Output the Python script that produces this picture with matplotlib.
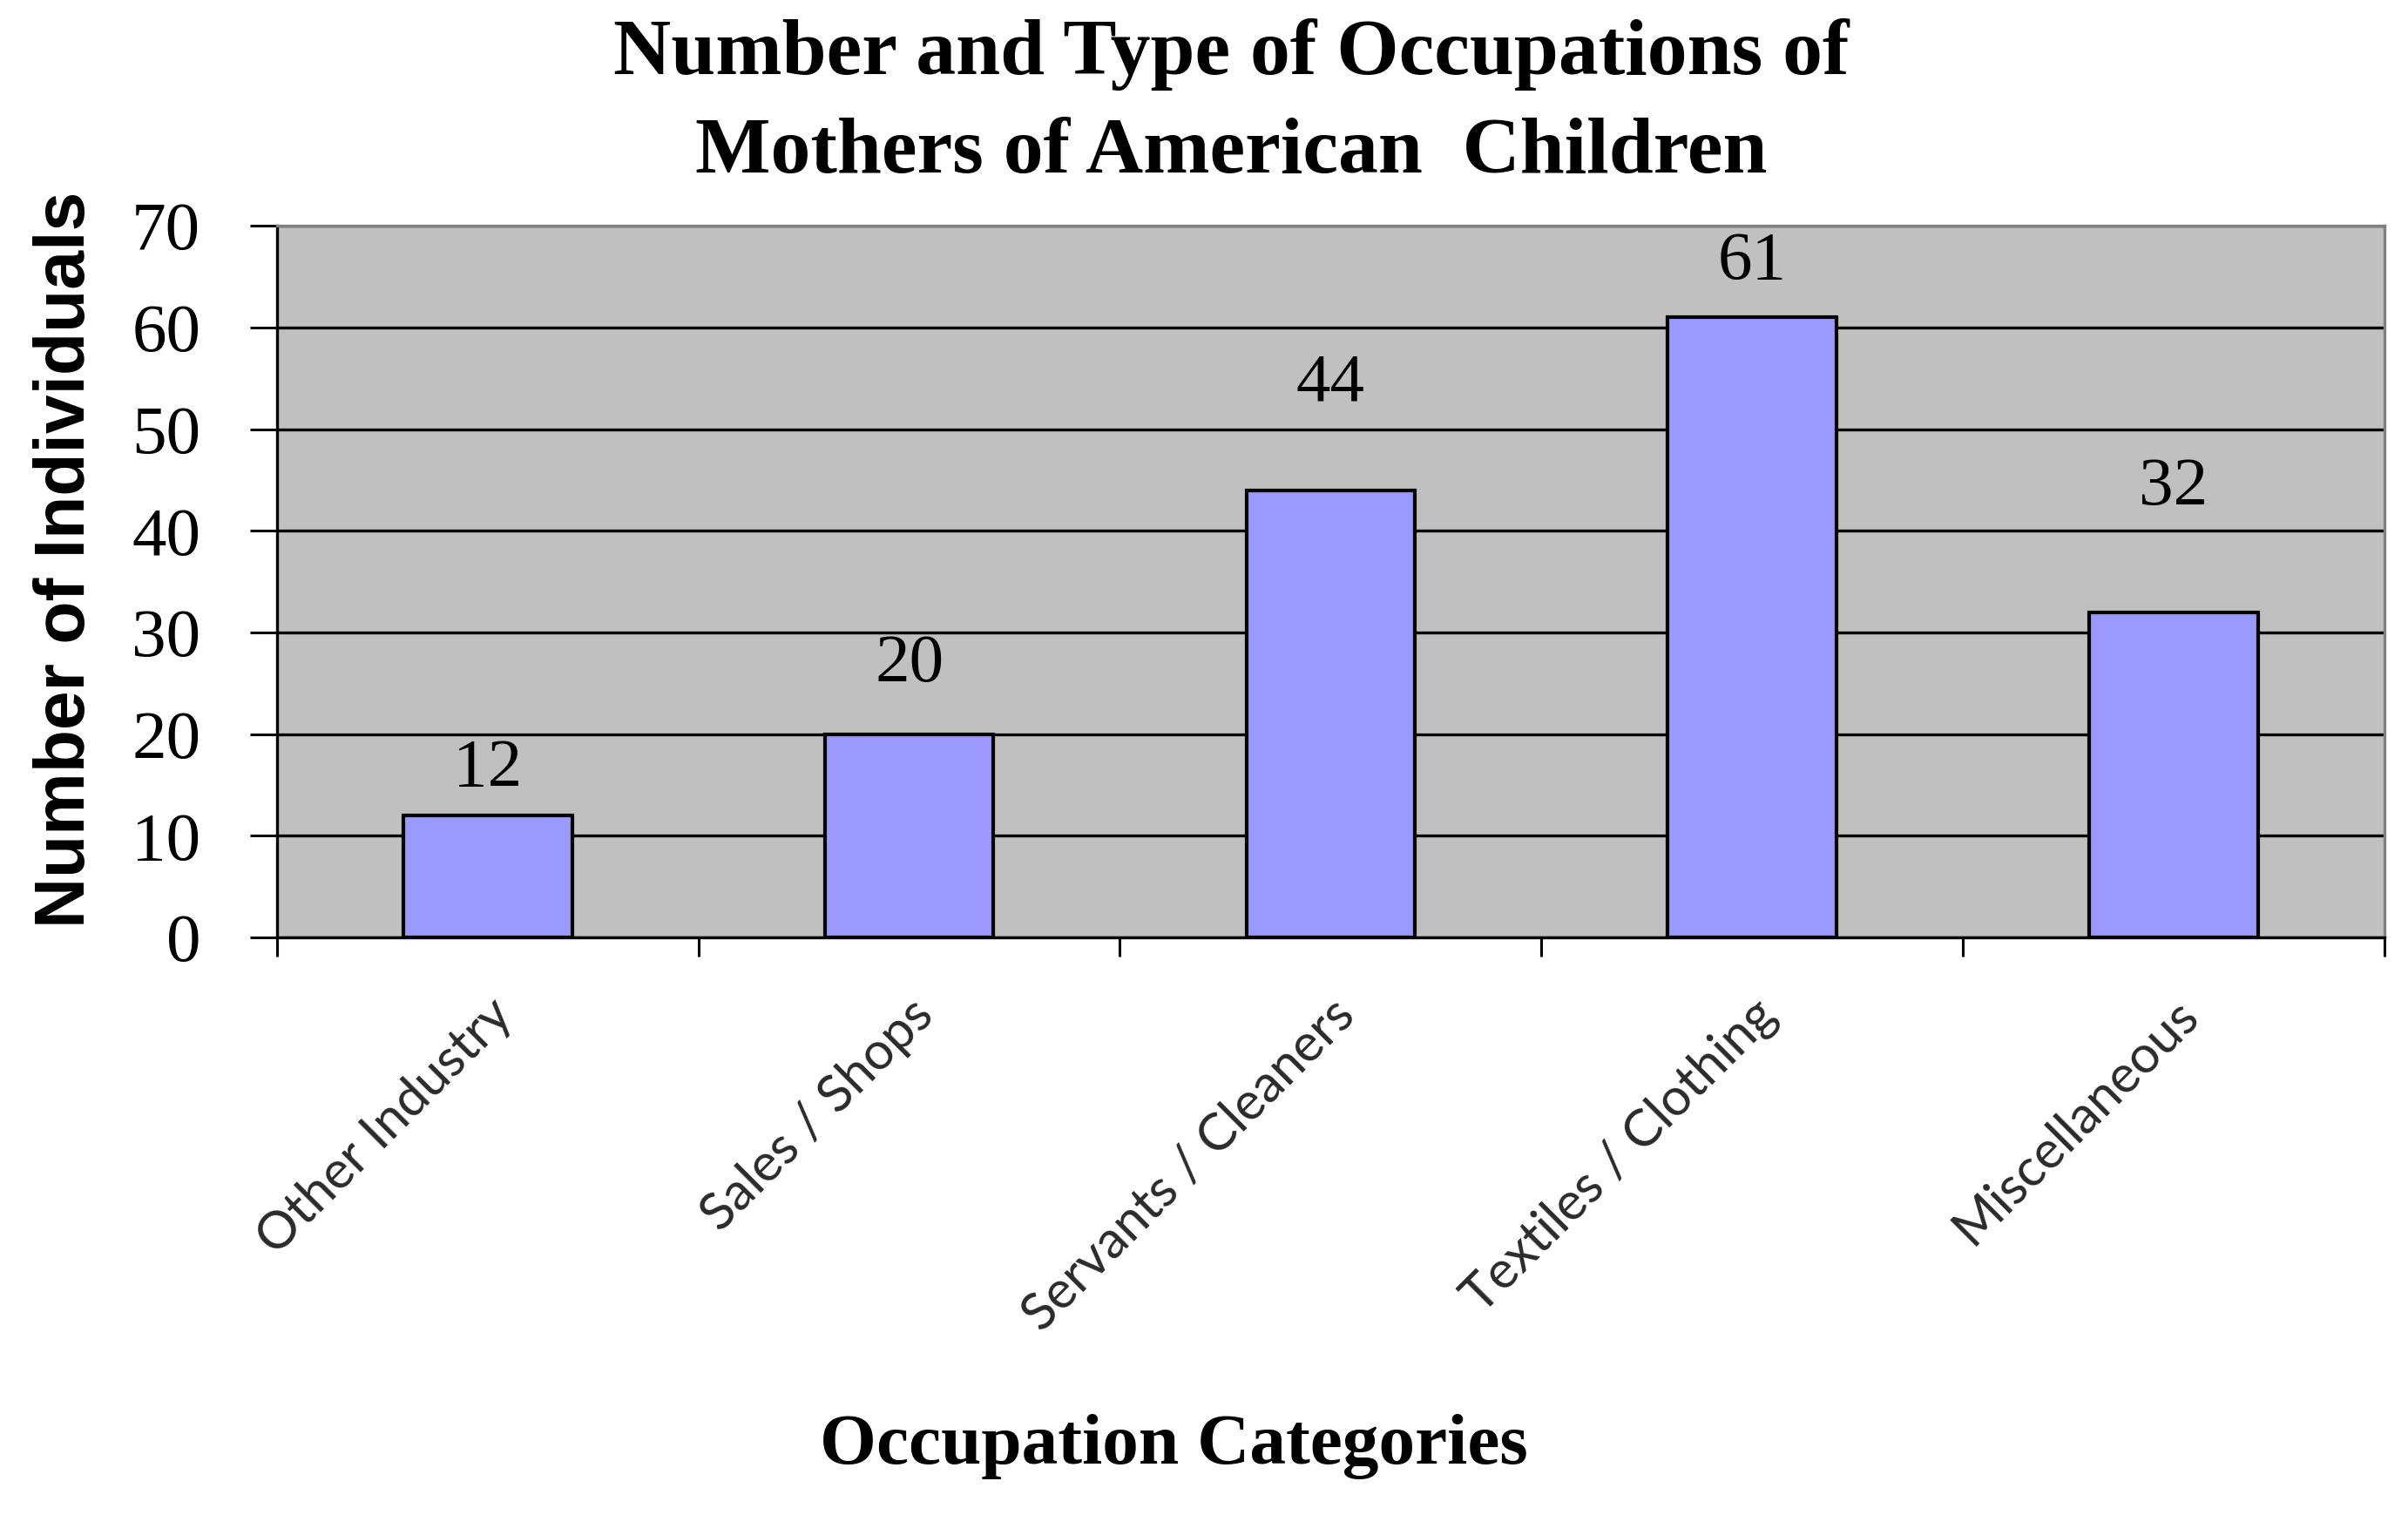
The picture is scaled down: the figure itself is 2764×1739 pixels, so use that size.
import matplotlib
matplotlib.use("Agg")
import matplotlib.pyplot as plt
import numpy as np

# Chart data
categories = ["Other Industry", "Sales / Shops", "Servants / Cleaners",
              "Textiles / Clothing", "Miscellaneous"]
counts = [12, 20, 44, 61, 32]
y_ticks = [0, 10, 20, 30, 40, 50, 60, 70]

title = "Number and Type of Occupations of\nMothers of American  Children"
x_title = "Occupation Categories"
y_title = "Number of Individuals"

# label baselines sit a bit above each bar (in data units), as in the original
label_lift = [2.9, 5.2, 8.8, 3.8, 10.6]

SERIF = "Liberation Serif"
BAR_COLOR = "#9999FF"
BG_COLOR = "#C0C0C0"

fig = plt.figure(figsize=(27.64, 17.39), dpi=100)
ax = fig.add_axes([0.1150, 0.3812, 0.8752, 0.4698])
ax.set_facecolor(BG_COLOR)

x = np.arange(len(categories))
ax.bar(x, counts, width=0.40, color=BAR_COLOR, edgecolor="black",
       linewidth=3.0, zorder=3)

for xi, v, lift in zip(x, counts, label_lift):
    ax.text(xi, v + lift, str(v), ha="center", va="baseline",
            fontsize=57, family=SERIF, color="black", zorder=4)

ax.set_xlim(-0.5, len(categories) - 0.5)
ax.set_ylim(0, 70)
ax.set_yticks(y_ticks)
ax.set_yticklabels([str(t) for t in y_ticks], family=SERIF, fontsize=57)

ax.set_axisbelow(True)
ax.yaxis.grid(True, color="black", linewidth=2.4)
ax.xaxis.grid(False)

# category labels at the bar centres, tick marks at the boundaries
ax.set_xticks(x)
ax.set_xticklabels(categories, rotation=45, ha="right",
                   rotation_mode="anchor", family="Lato", fontsize=43,
                   color="#2a2a2a")
ax.set_xticks(np.arange(len(categories) + 1) - 0.5, minor=True)
ax.tick_params(axis="x", which="major", length=0, pad=44)
ax.tick_params(axis="x", which="minor", length=16, width=2.2,
               direction="out", color="black")
ax.tick_params(axis="y", which="major", length=22, width=2.2,
               direction="out", color="black", pad=41)

for side in ["left", "bottom"]:
    ax.spines[side].set_color("black")
    ax.spines[side].set_linewidth(2.4)
for side in ["top", "right"]:
    ax.spines[side].set_color("#808080")
    ax.spines[side].set_linewidth(2.4)

fig.text(0.5112, 0.988, title, ha="center", va="top", fontsize=66,
         fontweight="bold", family=SERIF, linespacing=1.5)
fig.text(0.4873, 0.0339, x_title, ha="center", va="baseline", fontsize=60,
         fontweight="bold", family=SERIF)
fig.text(0.0351, 0.6308, y_title, rotation=90, rotation_mode="anchor",
         ha="center", va="baseline", fontsize=58, fontweight="bold",
         family="Liberation Sans")

fig.savefig("out.png", dpi=100, facecolor="white")
